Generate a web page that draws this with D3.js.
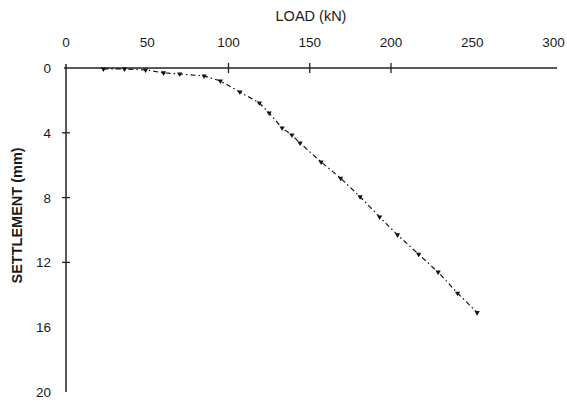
<!DOCTYPE html>
<html>
<head>
<meta charset="utf-8">
<script src="https://cdn.jsdelivr.net/npm/d3@7"></script>
<style>
  html, body { margin: 0; padding: 0; background: #fff; }
  svg text { font-family: "Liberation Sans", Arial, sans-serif; fill: #1a1a1a; }
</style>
</head>
<body>
<svg id="chart" width="567" height="404"></svg>
<script>
// Data
const load = [23, 36, 49, 60, 70, 85, 95, 107, 119, 125, 133, 139, 144, 157, 169, 181, 193, 204, 217, 229, 241, 253];
const settlement = [0.06, 0.06, 0.12, 0.3, 0.37, 0.49, 0.8, 1.48, 2.16, 2.78, 3.7, 4.14, 4.63, 5.8, 6.8, 7.95, 9.2, 10.3, 11.5, 12.6, 13.9, 15.1];
const xTickLabels = [0, 50, 100, 150, 200, 250, 300];
const yTickLabels = [0, 4, 8, 12, 16, 20];
const xTickMarks = [100, 150, 200];
const yTickMarks = [4, 8, 12];
const xTitle = "LOAD (kN)";
const yTitle = "SETTLEMENT (mm)";

const svg = d3.select("#chart");
const x = d3.scaleLinear().domain([0, 300]).range([66, 553.5]);
const y = d3.scaleLinear().domain([0, 20]).range([68, 392]);

// axis lines
svg.append("line").attr("x1", 64).attr("x2", 557).attr("y1", y(0)).attr("y2", y(0))
  .attr("stroke", "#222").attr("stroke-width", 1.5);
svg.append("line").attr("x1", x(0)).attr("x2", x(0)).attr("y1", 64).attr("y2", 392)
  .attr("stroke", "#222").attr("stroke-width", 1.5);

// cross tick marks
svg.selectAll(".xt").data(xTickMarks).enter().append("line")
  .attr("x1", d => x(d)).attr("x2", d => x(d))
  .attr("y1", y(0) - 5).attr("y2", y(0) + 5)
  .attr("stroke", "#222").attr("stroke-width", 1.3);
svg.selectAll(".yt").data(yTickMarks).enter().append("line")
  .attr("y1", d => y(d)).attr("y2", d => y(d))
  .attr("x1", x(0) - 4).attr("x2", x(0) + 4)
  .attr("stroke", "#222").attr("stroke-width", 1.3);

// tick labels
svg.selectAll(".xl").data(xTickLabels).enter().append("text")
  .attr("x", d => x(d)).attr("y", 47)
  .attr("text-anchor", "middle").attr("font-size", 13.5)
  .text(d => d);
svg.selectAll(".yl").data(yTickLabels).enter().append("text")
  .attr("x", 51).attr("y", d => y(d) + 5)
  .attr("text-anchor", "end").attr("font-size", 13.5)
  .text(d => d);

// titles
svg.append("text").attr("x", 311).attr("y", 21).attr("text-anchor", "middle")
  .attr("font-size", 14.5).text(xTitle);
svg.append("text").attr("transform", `translate(22,${y(9.1)}) rotate(-90)`)
  .attr("text-anchor", "middle").attr("font-size", 14.5).attr("font-weight", "bold").text(yTitle);

// data line
const pts = load.map((d, i) => [d, settlement[i]]);
const line = d3.line().x(d => x(d[0])).y(d => y(d[1]));
svg.append("path").attr("d", line(pts)).attr("fill", "none")
  .attr("stroke", "#111").attr("stroke-width", 1.2).attr("stroke-dasharray", "5,3,1.5,3");

// markers
const sym = d3.symbol().type(d3.symbolTriangle).size(12);
svg.selectAll(".m").data(pts).enter().append("path")
  .attr("d", sym).attr("transform", d => `translate(${x(d[0])},${y(d[1])}) rotate(180)`)
  .attr("fill", "#111");
</script>
</body>
</html>
